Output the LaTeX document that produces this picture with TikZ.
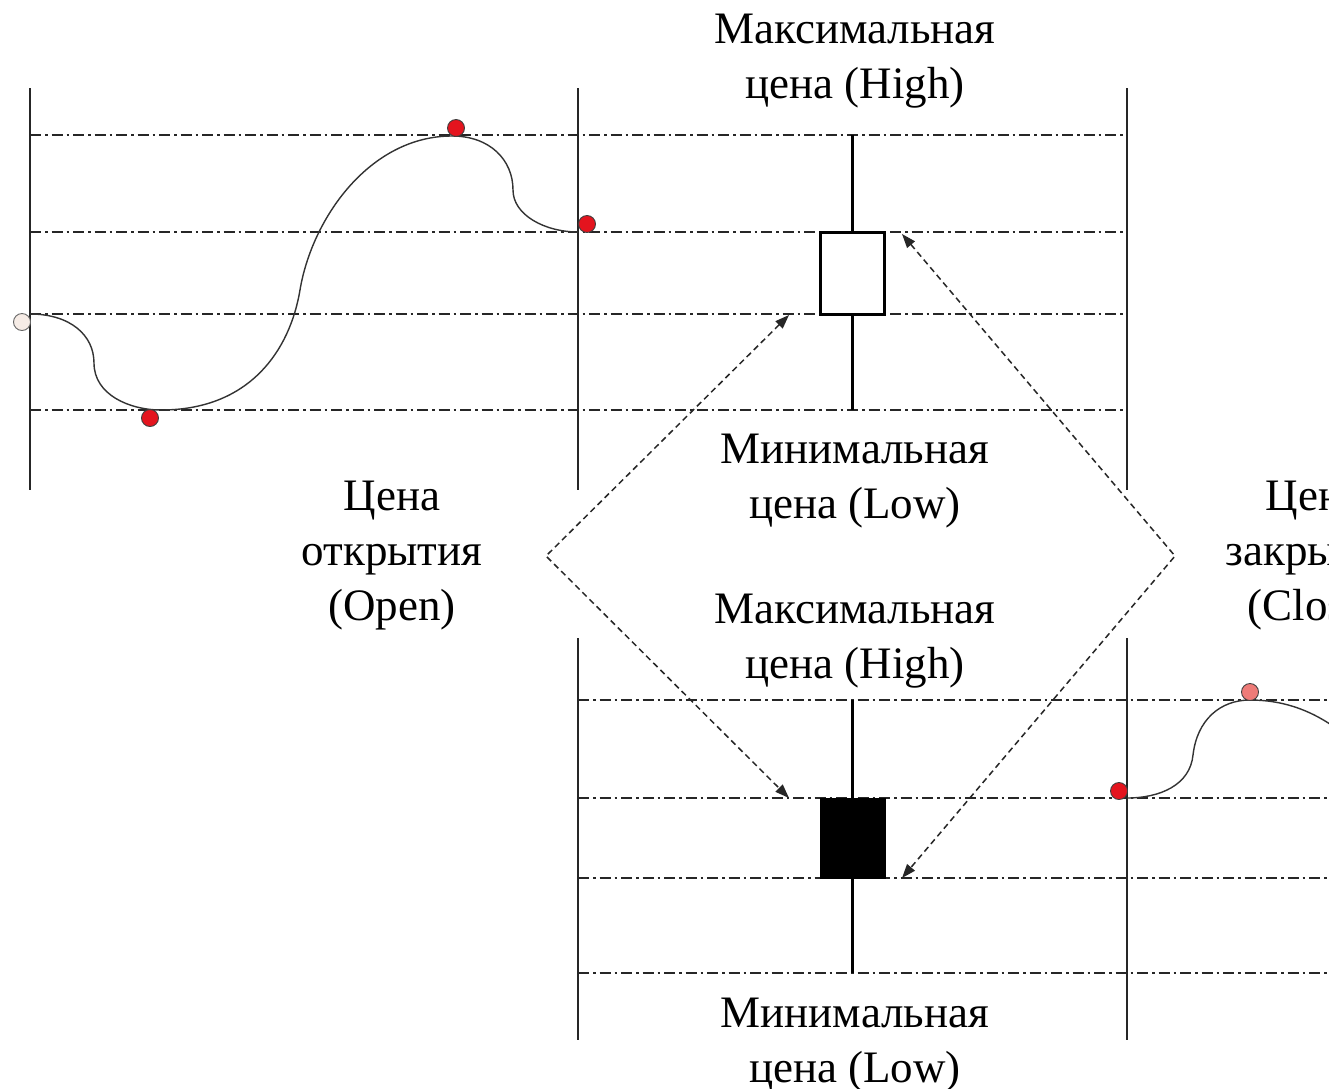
\documentclass[tikz,border=0pt]{standalone}
\usepackage{fontspec}
\setmainfont{Liberation Serif}
\usetikzlibrary{arrows.meta}
\definecolor{dotred}{HTML}{E4141E}
\definecolor{dotpink}{HTML}{EE7B78}
\definecolor{dotopen}{HTML}{F6ECE6}
\begin{document}
\begin{tikzpicture}[x=1pt,y=-1pt,
  lbl/.style={align=center,font=\fontsize{45}{55}\selectfont,inner sep=0pt},
  vline/.style={line width=1.5pt,black!85},
  grid/.style={line width=1.6pt,black!85,dash pattern=on 11pt off 4pt on 2.5pt off 4pt},
  price/.style={line width=1.4pt,black!80},
  wick/.style={line width=3pt},
  bullbox/.style={draw,line width=3pt,fill=white,minimum width=64pt,minimum height=82pt,inner sep=0pt},
  bearbox/.style={draw,line width=1pt,fill=black,minimum width=65pt,minimum height=80pt,inner sep=0pt},
  pt/.style={circle,draw=black!75,line width=0.9pt,minimum size=17pt,inner sep=0pt},
  link/.style={line width=1.5pt,black!85,dash pattern=on 6pt off 4pt,{Triangle[length=14pt,width=10pt]}-{Triangle[length=14pt,width=10pt]}}]
\useasboundingbox (0,0) rectangle (1329,1088);
\fill[white] (0,0) rectangle (1329,1088);
\clip (0,0) rectangle (1329,1088);

% ---------- top panel ----------
\foreach \y in {135,232,314,410} \draw[grid] (30,\y) -- (1127,\y);
\foreach \x in {30,578,1127} \draw[vline] (\x,88) -- (\x,490);

% price curve (top)
\draw[price] (30,314) .. controls (70,314) and (94,335) .. (94,363)
  .. controls (94,395) and (130,410) .. (161,410)
  .. controls (250,410) and (290,350) .. (300,290)
  .. controls (312,218) and (370,136) .. (452,136)
  .. controls (490,136) and (513,160) .. (513,190)
  .. controls (513,215) and (545,232) .. (578,232);
\node[pt,fill=dotopen,draw=black!60] (open) at (22,322) {};
\node[pt,fill=dotred] (low1) at (150,418) {};
\node[pt,fill=dotred] (high1) at (456,128) {};
\node[pt,fill=dotred] (close1) at (587,224) {};

% bullish candle
\draw[wick] (852,135) -- (852,410);
\node[bullbox] (bull) at (852,273) {};

\node[lbl] (hiA) at (855,61) {Максимальная\\цена (High)};
\node[lbl] (loA) at (855,481) {Минимальная\\цена (Low)};
\node[lbl] (openlbl) at (392,556) {Цена\\открытия\\(Open)};
\node[lbl] (closelbl) at (1314,556) {Цена\\закрытия\\(Close)};

% ---------- bottom panel ----------
\foreach \y in {700,798,878,973} \draw[grid] (578,\y) -- (1340,\y);
\foreach \x in {578,1127} \draw[vline] (\x,638) -- (\x,1040);

\draw[wick] (852,700) -- (852,973);
\node[bearbox] (bear) at (853,838) {};

\draw[price] (1127,798) .. controls (1160,798) and (1190,785) .. (1193,755)
  .. controls (1197,720) and (1220,700) .. (1250,700)
  .. controls (1290,700) and (1320,715) .. (1345,735);
\node[pt,fill=dotred] (open2) at (1119,791) {};
\node[pt,fill=dotpink] (high2) at (1250,692) {};

\node[lbl] (hiB) at (855,641) {Максимальная\\цена (High)};
\node[lbl] (loB) at (855,1045) {Минимальная\\цена (Low)};

% ---------- dashed links ----------
\coordinate (lv) at (546,556);
\coordinate (rv) at (1175,556);
\coordinate (bullBL) at (789,315);
\coordinate (bullTR) at (902,234);
\coordinate (bearTL) at (789,798);
\coordinate (bearBR) at (902,878);
\draw[link] (bullBL) -- (lv) -- (bearTL);
\draw[link] (bullTR) -- (rv) -- (bearBR);
\end{tikzpicture}
\end{document}
